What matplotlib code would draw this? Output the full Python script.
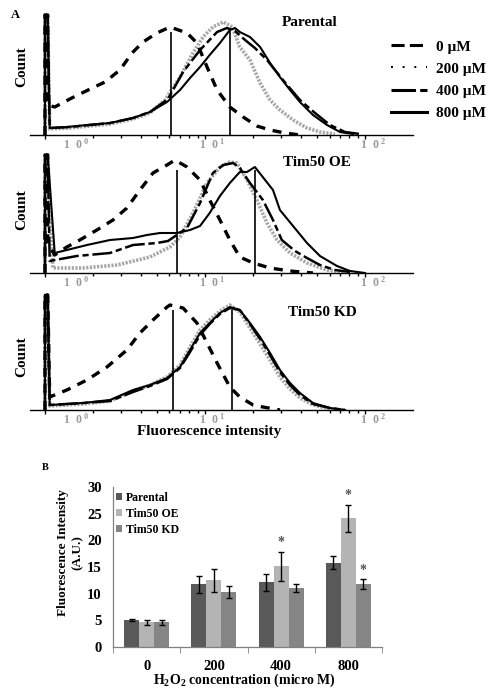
import numpy as np
import matplotlib
matplotlib.use('Agg')
import matplotlib.pyplot as plt
from matplotlib.lines import Line2D
from matplotlib.ticker import FixedLocator, NullFormatter

plt.rcParams['font.family'] = ['Liberation Serif', 'DejaVu Serif']
plt.rcParams['font.weight'] = 'bold'
plt.rcParams['mathtext.fontset'] = 'custom'
plt.rcParams['mathtext.rm'] = 'Liberation Serif:bold'
plt.rcParams['mathtext.it'] = 'Liberation Serif:bold'
plt.rcParams['mathtext.bf'] = 'Liberation Serif:bold'

# ---------------- Panel A data (fluorescence intensity, count) ----------------
panel_titles = ['Parental', 'Tim50 OE', 'Tim50 KD']
conc_labels = ['0 \u00b5M', '200 \u00b5M', '400 \u00b5M', '800 \u00b5M']

# Parental
p1_0_x = [1.0, 1.0, 1.04, 1.04, 1.15, 1.47, 1.86, 2.37, 2.94, 3.50, 4.10, 5.01, 6.04, 7.72, 8.91, 10.3, 11.9, 14.3, 17.3, 21.1, 25.5, 31.6, 39.2]
p1_0_y = [0, 120, 120, 30, 28, 37, 45, 53, 65, 82, 93, 102, 108, 102, 92, 68, 45, 28, 18, 9, 5, 2, 0]
p1_200_x = [1.0, 1.0, 1.04, 1.07, 1.43, 1.91, 2.55, 3.55, 4.53, 5.62, 6.98, 8.41, 9.72, 11.2, 13.0, 14.8, 16.5, 19.1, 22.1, 25.5, 29.4, 35.5, 43.4, 52.3, 64.9]
p1_200_y = [0, 120, 120, 6, 7, 9, 11, 16, 22, 35, 58, 82, 98, 108, 113, 108, 88, 75, 52, 35, 25, 15, 7, 3, 1]
p1_400_x = [1.0, 1.0, 1.04, 1.07, 1.43, 1.91, 2.55, 3.55, 4.53, 5.87, 7.29, 9.31, 11.9, 13.7, 15.4, 17.8, 20.5, 24.4, 30.7, 39.2, 48.7, 60.4, 75.0, 93.1]
p1_400_y = [0, 120, 120, 7, 8, 10, 12, 17, 23, 36, 63, 85, 103, 107, 104, 95, 87, 75, 55, 35, 22, 10, 3, 1]
p1_800_x = [1.0, 1.0, 1.04, 1.07, 1.37, 1.83, 2.55, 3.55, 4.53, 5.79, 6.98, 8.06, 9.31, 10.7, 12.4, 14.3, 15.4, 16.5, 19.1, 22.1, 25.5, 29.4, 34.0, 39.2, 47.3, 57.9, 69.8, 84.1]
p1_800_y = [0, 120, 120, 7, 8, 10, 12, 17, 23, 33, 45, 57, 68, 80, 92, 105, 107, 103, 98, 88, 72, 58, 45, 33, 20, 10, 3, 1]
p1_marks = [6.13, 14.3]
p1_mark_h = [103, 105]

# Tim50 OE
p2_0_x = [1.0, 1.0, 1.04, 1.04, 1.15, 1.37, 1.65, 2.11, 2.66, 3.25, 3.92, 4.73, 5.79, 6.49, 7.72, 9.31, 10.7, 12.4, 14.3, 16.5, 20.0, 25.5, 34.0, 47.3]
p2_0_y = [0, 118, 118, 30, 18, 26, 33, 43, 53, 65, 83, 100, 108, 113, 106, 93, 73, 53, 33, 16, 10, 5, 2, 0]
p2_200_x = [1.0, 1.0, 1.04, 1.12, 1.73, 2.82, 4.53, 6.04, 6.98, 8.41, 10.3, 12.4, 14.3, 15.8, 18.3, 21.1, 24.4, 28.2, 34.0, 43.4, 57.9, 75.0]
p2_200_y = [0, 118, 118, 5, 5, 8, 16, 26, 36, 60, 90, 106, 111, 110, 93, 73, 50, 33, 20, 10, 3, 1]
p2_400_x = [1.0, 1.0, 1.04, 1.07, 1.58, 2.55, 3.55, 5.01, 5.87, 7.72, 9.31, 11.2, 13.0, 15.0, 16.5, 19.1, 23.0, 26.6, 30.2, 36.5, 43.4, 52.3, 64.9, 80.6]
p2_400_y = [0, 118, 118, 12, 17, 20, 28, 30, 32, 45, 70, 100, 108, 110, 105, 90, 73, 53, 33, 22, 15, 8, 3, 1]
p2_800_x = [1.0, 1.0, 1.04, 1.15, 1.37, 1.83, 2.55, 3.55, 4.34, 5.23, 6.68, 8.06, 9.31, 10.7, 12.4, 14.3, 16.5, 18.3, 20.5, 26.6, 29.4, 35.5, 43.4, 52.3, 66.8, 80.6, 100.0]
p2_800_y = [0, 118, 118, 20, 23, 28, 33, 35, 38, 40, 40, 43, 47, 60, 77, 90, 101, 101, 106, 83, 63, 47, 30, 17, 7, 2, 0]
p2_marks = [6.68, 20.5]
p2_mark_h = [103, 103]

# Tim50 KD
p3_0_x = [1.0, 1.0, 1.04, 1.07, 1.37, 1.83, 2.44, 3.25, 3.92, 4.73, 5.79, 6.04, 7.29, 8.91, 10.3, 11.9, 14.3, 16.5, 20.0, 23.0, 29.4]
p3_0_y = [0, 115, 115, 13, 20, 30, 43, 60, 77, 90, 103, 105, 102, 87, 67, 47, 23, 13, 5, 3, 0]
p3_x = [1.0, 1.0, 1.04, 1.07, 1.73, 2.55, 3.55, 4.53, 5.79, 6.98, 8.06, 9.31, 10.7, 12.4, 14.3, 16.5, 19.1, 22.1, 25.5, 29.4, 34.0, 39.2, 47.3, 60.4, 75.0]
p3_200_y = [0, 115, 115, 4, 6, 9, 19, 25, 33, 45, 63, 80, 90, 99, 105, 98, 82, 66, 50, 33, 21, 12, 5, 1, 0]
p3_400_y = [0, 115, 115, 5, 7, 9, 18, 24, 31, 42, 58, 75, 86, 96, 102, 100, 86, 71, 55, 38, 25, 15, 6, 2, 0]
p3_800_y = [0, 115, 115, 5, 7, 10, 20, 25, 32, 43, 60, 77, 87, 97, 103, 100, 87, 73, 57, 40, 27, 17, 7, 2, 0]
p3_marks = [6.31, 14.75]
p3_mark_h = [100, 100]

hist_ticklabels = [r'$1\ \ 0^{\ 0}$', r'$1\ \ 0^{\ 1}$', r'$1\ \ 0^{\ 2}$']
hist_ticklabel_pos = [1.56, 11.1, 112.0]

# ---------------- Panel B data ----------------
conc = ['0', '200', '400', '800']
series = ['Parental', 'Tim50 OE', 'Tim50 KD']
parental = [5.0, 11.8, 12.1, 15.8]
parental_err = [0.2, 1.6, 1.6, 1.2]
oe = [4.6, 12.5, 15.1, 24.1]
oe_err = [0.4, 2.1, 2.7, 2.6]
kd = [4.6, 10.3, 11.1, 11.8]
kd_err = [0.5, 1.1, 0.8, 0.9]
stars = [(2, 1), (3, 1), (3, 2)]  # (concentration index, series index)

# ---------------- figure ----------------
W, H = 500, 697
fig = plt.figure(figsize=(5, 6.97), dpi=100)


def rect(l, t, r, b):
    return [l / W, 1 - b / H, (r - l) / W, (b - t) / H]


style_0 = dict(color='k', lw=2.4, ls=(0, (2.7, 2.3)))
style_200 = dict(color='#a6a6a6', lw=2.6, ls=(0, (0.6, 0.4)))
style_400 = dict(color='k', lw=1.8, ls=(0, (8, 1.5, 2.5, 1.5)))
style_800 = dict(color='k', lw=1.5, ls='-')

panels = [
    dict(r=(30, 12, 413, 135), c0=(p1_0_x, p1_0_y), c200=(p1_200_x, p1_200_y),
         c400=(p1_400_x, p1_400_y), c800=(p1_800_x, p1_800_y), m=p1_marks, mh=p1_mark_h),
    dict(r=(30, 150, 413, 273), c0=(p2_0_x, p2_0_y), c200=(p2_200_x, p2_200_y),
         c400=(p2_400_x, p2_400_y), c800=(p2_800_x, p2_800_y), m=p2_marks, mh=p2_mark_h),
    dict(r=(30, 287, 413, 410), c0=(p3_0_x, p3_0_y), c200=(p3_x, p3_200_y),
         c400=(p3_x, p3_400_y), c800=(p3_x, p3_800_y), m=p3_marks, mh=p3_mark_h),
]

minor = [v * d for d in (1, 10) for v in range(2, 10)] + [200]
for p in panels:
    ax = fig.add_axes(rect(*p['r']))
    ax.set_xscale('log')
    ax.set_xlim(0.806, 199.5)
    ax.set_ylim(0, 123)
    ax.plot(*p['c200'], **style_200)
    ax.plot(*p['c800'], **style_800)
    ax.plot(*p['c400'], **style_400)
    ax.plot(*p['c0'], **style_0)
    ax.vlines(p['m'], 0, p['mh'], color='k', lw=1.2)
    for s in ('top', 'right', 'left'):
        ax.spines[s].set_visible(False)
    ax.spines['bottom'].set_linewidth(1.0)
    ax.set_yticks([])
    ax.xaxis.set_major_locator(FixedLocator([1, 10, 100]))
    ax.xaxis.set_minor_locator(FixedLocator(minor))
    ax.xaxis.set_major_formatter(NullFormatter())
    ax.xaxis.set_minor_formatter(NullFormatter())
    ax.tick_params(axis='x', which='major', length=3, width=1.0, direction='out')
    ax.tick_params(axis='x', which='minor', length=2, width=1.0, direction='out')
    for lab, pos in zip(hist_ticklabels, hist_ticklabel_pos):
        ax.annotate(lab, xy=(pos, 0), xycoords=('data', 'axes fraction'),
                    xytext=(0, -7), textcoords='offset points', ha='center', va='center',
                    fontsize=8.5, color='#9a9a9a')

# texts for panel A
fig.text(15 / W, 1 - 15 / H, 'A', fontsize=9, fontweight='bold', ha='center', va='center')
for t, (x, y) in zip(panel_titles, [(310, 23), (317, 163), (322, 313)]):
    fig.text(x / W, 1 - y / H, t, fontsize=11, fontweight='bold', ha='center', va='center')
for y in (67, 210, 357):
    fig.text(22 / W, 1 - y / H, 'Count', fontsize=11, fontweight='bold', rotation=90,
             ha='center', va='center')
fig.text(209 / W, 1 - 432 / H, 'Fluorescence intensity', fontsize=11, fontweight='bold',
         ha='center', va='center')

leg_handles = [
    Line2D([], [], color='k', lw=2.2, ls=(0, (4.3, 1.7))),
    Line2D([], [], color='k', lw=1.4, ls=(0, (1, 5))),
    Line2D([], [], color='k', lw=2.2, ls=(0, (8, 1.4, 2.4, 1.4))),
    Line2D([], [], color='k', lw=2.2, ls='-'),
]
fig.legend(leg_handles, conc_labels, loc='upper left', bbox_to_anchor=(391 / W, 1 - 40 / H),
           frameon=False, handlelength=2.35, handletextpad=0.6,
           labelspacing=0.55, borderpad=0, borderaxespad=0,
           prop=dict(weight='bold', size=11))

# ---------------- Panel B ----------------
fig.text(45 / W, 1 - 467 / H, 'B', fontsize=7.5, fontweight='bold', ha='center', va='center')
axb = fig.add_axes(rect(113, 487, 382, 647))
x = np.arange(len(conc))
bw = 0.223
colors = ['#595959', '#b4b4b4', '#858585']
vals = [parental, oe, kd]
errs = [parental_err, oe_err, kd_err]
for i, (v, e, c, lab) in enumerate(zip(vals, errs, colors, series)):
    xi = x + (i - 1) * bw
    axb.bar(xi, v, width=bw, color=c, label=lab, zorder=2)
    axb.errorbar(xi, v, yerr=e, fmt='none', ecolor='k', elinewidth=1, capsize=2, capthick=1, zorder=3)
for ci, si in stars:
    axb.text(x[ci] + (si - 1) * bw, vals[si][ci] + errs[si][ci] + 1.7, '*',
             ha='center', va='center', fontsize=10, color='#555555')
axb.set_xlim(-0.5, 3.5)
axb.set_ylim(0, 30)
axb.set_yticks(range(0, 31, 5))
axb.set_xticks(x)
axb.set_xticklabels(conc)
axb.set_xticks(np.arange(-0.5, 4.0, 1.0), minor=True)
axb.tick_params(axis='x', which='major', length=0, pad=9, labelsize=10.5)
axb.tick_params(axis='x', which='minor', length=4, color='#808080')
axb.tick_params(axis='y', length=0, pad=8, labelsize=10.5)
for s in ('top', 'right'):
    axb.spines[s].set_visible(False)
for s in ('left', 'bottom'):
    axb.spines[s].set_color('#808080')
    axb.spines[s].set_linewidth(0.9)
for lab in axb.get_xticklabels() + axb.get_yticklabels():
    lab.set_fontweight('bold')
axb.legend(loc='upper left', bbox_to_anchor=(0.01, 0.97), frameon=False,
           prop=dict(weight='bold', size=8.5), handlelength=0.55, handleheight=0.55,
           handletextpad=0.3, labelspacing=0.35, borderpad=0, borderaxespad=0)
fig.text(70 / W, 1 - 553 / H, 'Fluorescence Intensity\n(A.U.)', fontsize=9.5, fontweight='bold',
         rotation=90, ha='center', va='center', multialignment='center', linespacing=1.3)
fig.text(244 / W, 1 - 680 / H, r'H$_2$O$_2$ concentration (micro M)', fontsize=10,
         fontweight='bold', ha='center', va='center')

fig.savefig('out.png', dpi=100)
